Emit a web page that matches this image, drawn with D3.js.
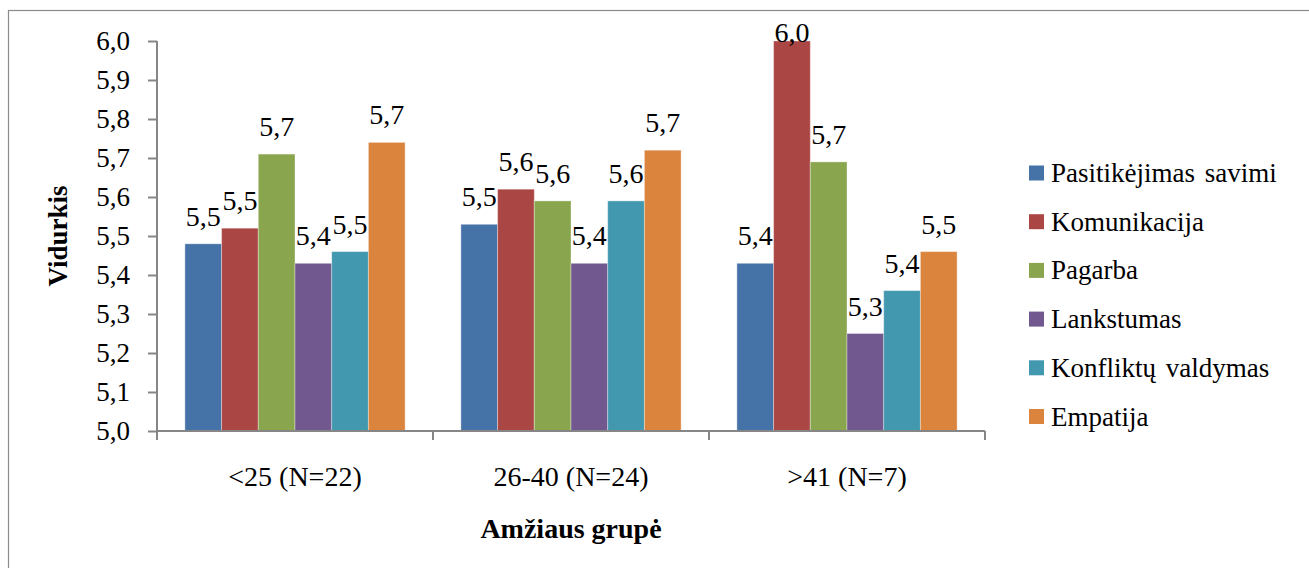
<!DOCTYPE html>
<html>
<head>
<meta charset="utf-8">
<script src="https://cdn.jsdelivr.net/npm/d3@7"></script>
<style>
  body { margin: 0; background: #fff; }
  svg text { font-family: "Liberation Serif", Tinos, "Times New Roman", Times, "DejaVu Serif", serif; fill: #000; }
</style>
</head>
<body>
<svg id="chart"></svg>
<script>
// data
const groups = ["<25 (N=22)", "26-40 (N=24)", ">41 (N=7)"];
const seriesNames = ["Pasitikėjimas savimi", "Komunikacija", "Pagarba", "Lankstumas", "Konfliktų valdymas", "Empatija"];
const pasitikejimas = [5.48, 5.53, 5.43];
const komunikacija = [5.52, 5.62, 6.00];
const pagarba = [5.71, 5.59, 5.69];
const lankstumas = [5.43, 5.43, 5.25];
const konfliktai = [5.46, 5.59, 5.36];
const empatija = [5.74, 5.72, 5.46];
const yTicks = [5.0, 5.1, 5.2, 5.3, 5.4, 5.5, 5.6, 5.7, 5.8, 5.9, 6.0];
const colors = ["#4572A7", "#AA4643", "#89A54E", "#71588F", "#4198AF", "#DB843D"];

const seriesValues = [pasitikejimas, komunikacija, pagarba, lankstumas, konfliktai, empatija];
const rows = groups.map((g, i) => ({
  group: g,
  values: seriesNames.map((s, j) => ({ name: s, value: seriesValues[j][i] }))
}));

const width = 1309, height = 568;
const plot = { left: 157, right: 985, top: 41, bottom: 431 };
const axisColor = "#868686";
const serif = "'Liberation Serif', Tinos, 'Times New Roman', Times, 'DejaVu Serif', serif";

const lt = d3.formatLocale({ decimal: ",", thousands: " ", grouping: [3], currency: ["", ""] });
const fmt = lt.format(".1f");

const svg = d3.select("#chart")
  .attr("width", width)
  .attr("height", height)
  .style("font-family", serif);

// outer frame
svg.append("rect")
  .attr("x", 8.5).attr("y", 10.5)
  .attr("width", width).attr("height", height)
  .attr("fill", "none")
  .attr("stroke", "#8c8c8c")
  .attr("stroke-width", 1.2);

const x0 = d3.scaleBand()
  .domain(groups)
  .range([plot.left, plot.right])
  .paddingInner(0).paddingOuter(0);

const x1 = d3.scaleBand()
  .domain(seriesNames)
  .range([0, x0.bandwidth()])
  .paddingInner(0).paddingOuter(0.76);

const y = d3.scaleLinear()
  .domain([5, 6])
  .range([plot.bottom, plot.top]);

// bars
const groupSel = svg.selectAll("g.grp")
  .data(rows)
  .enter()
  .append("g")
  .attr("class", "grp")
  .attr("transform", d => "translate(" + x0(d.group) + ",0)");

groupSel.selectAll("rect")
  .data(d => d.values)
  .enter()
  .append("rect")
  .attr("x", d => x1(d.name))
  .attr("y", d => y(d.value))
  .attr("width", x1.bandwidth())
  .attr("height", d => y(5) - y(d.value))
  .attr("fill", (d, i) => colors[i])
  .attr("stroke", "#ffffff")
  .attr("stroke-opacity", 0.35)
  .attr("stroke-width", 1);

// data labels
groupSel.selectAll("text.val")
  .data(d => d.values)
  .enter()
  .append("text")
  .attr("class", "val")
  .attr("x", d => x1(d.name) + x1.bandwidth() / 2)
  .attr("y", d => Math.max(y(d.value) - 18, plot.top + 1))
  .attr("text-anchor", "middle")
  .style("font-size", "28px")
  .text(d => fmt(d.value));

// y axis
const yAxis = d3.axisLeft(y)
  .tickValues(yTicks)
  .tickFormat(fmt)
  .tickSize(9)
  .tickPadding(18);

const yG = svg.append("g")
  .attr("transform", "translate(" + plot.left + ",0)")
  .call(yAxis)
  .attr("font-family", null);
yG.select(".domain").attr("stroke", axisColor).attr("stroke-width", 2)
  .attr("d", "M0," + plot.top + "V" + plot.bottom);
yG.selectAll(".tick line").attr("stroke", axisColor).attr("stroke-width", 2);
yG.selectAll(".tick text")
  .style("font-size", "27px")
  .attr("fill", "#000");

// x axis
const xG = svg.append("g")
  .attr("transform", "translate(0," + plot.bottom + ")");
xG.append("line")
  .attr("x1", plot.left).attr("x2", plot.right)
  .attr("stroke", axisColor).attr("stroke-width", 2);
const bounds = groups.map(g => x0(g)).concat([plot.right]);
xG.selectAll("line.tk")
  .data(bounds)
  .enter()
  .append("line")
  .attr("class", "tk")
  .attr("x1", d => d).attr("x2", d => d)
  .attr("y1", 0).attr("y2", 9)
  .attr("stroke", axisColor).attr("stroke-width", 2);
xG.selectAll("text")
  .data(groups)
  .enter()
  .append("text")
  .attr("x", d => x0(d) + x0.bandwidth() / 2)
  .attr("y", 55)
  .attr("text-anchor", "middle")
  .style("font-size", "28px")
  .text(d => d);

// axis titles
svg.append("text")
  .attr("x", (plot.left + plot.right) / 2)
  .attr("y", 538)
  .attr("text-anchor", "middle")
  .style("font-size", "28px")
  .style("font-weight", "bold")
  .text("Amžiaus grupė");

svg.append("text")
  .attr("transform", "translate(67," + ((plot.top + plot.bottom) / 2) + ") rotate(-90)")
  .attr("text-anchor", "middle")
  .style("font-size", "27px")
  .style("font-weight", "bold")
  .text("Vidurkis");

// legend
const legend = svg.append("g")
  .attr("transform", "translate(1029,173)");
const item = legend.selectAll("g")
  .data(seriesNames)
  .enter()
  .append("g")
  .attr("transform", (d, i) => "translate(0," + (i * 48.7) + ")");
item.append("rect")
  .attr("x", 0).attr("y", -7.5)
  .attr("width", 15).attr("height", 15)
  .attr("fill", (d, i) => colors[i]);
item.append("text")
  .attr("x", 22)
  .attr("y", 9)
  .style("font-size", "27px")
  .style("word-spacing", "3px")
  .text(d => d);
</script>
</body>
</html>
